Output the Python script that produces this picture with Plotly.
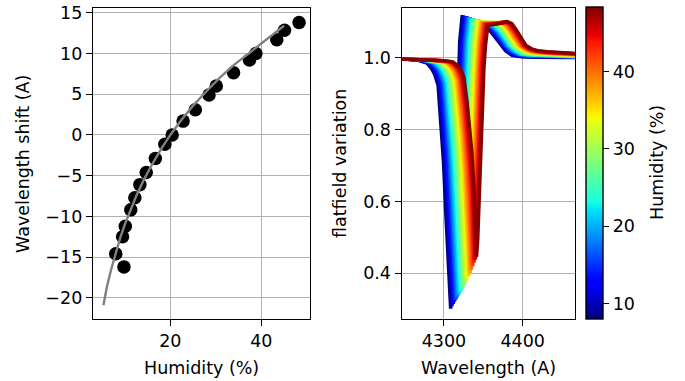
import plotly.graph_objects as go

# ---------------- data ----------------
# left panel: measured points, humidity (%) vs wavelength shift (A)
HUMIDITY = [8.0, 9.5, 9.8, 10.1, 11.3, 12.2, 13.3, 14.7, 16.7, 18.8, 20.4,
            22.8, 25.5, 28.5, 30.1, 33.9, 37.4, 38.8, 43.4, 45.1, 48.3]
SHIFT = [-14.6, -12.5, -16.2, -11.2, -9.2, -7.7, -6.1, -4.6, -2.9, -1.15, 0.0,
         1.7, 3.1, 4.9, 6.0, 7.65, 9.2, 10.0, 11.7, 12.85, 13.8]

# left panel: grey fitted curve, read along its path
FIT_H = [5.3, 6.0, 7.0, 8.0, 9.0, 10.0, 11.0, 12.5, 14.0, 16.0, 18.0, 20.0,
         22.5, 25.0, 28.0, 31.0, 34.0, 37.0, 40.0, 42.5, 45.0]
FIT_S = [-20.9, -18.8, -16.5, -14.4, -12.6, -11.0, -9.5, -7.5, -5.7, -3.6, -1.7,
         0.0, 1.9, 3.6, 5.4, 7.1, 8.6, 9.9, 11.2, 12.3, 13.4]

# right panel: spectra (humidity of each spectrum, dip wavelength, dip depth,
# and how "wet" the spectrum shape looks) - read estimates
SPEC_H = [8, 10, 12, 14, 16, 18, 20, 22, 24, 26, 28, 30, 32, 34, 36, 38, 40,
          42, 44, 46, 48]
SPEC_CENTER = [4308.5, 4310.1, 4311.8, 4313.4, 4315.1, 4316.7, 4318.3, 4320.0,
               4321.6, 4323.3, 4324.9, 4326.5, 4328.2, 4329.8, 4331.5, 4333.1,
               4334.7, 4336.4, 4338.0, 4339.7, 4341.3]
SPEC_DEPTH = [0.302, 0.309, 0.315, 0.321, 0.327, 0.333, 0.339, 0.345, 0.351, 0.357,
              0.364, 0.371, 0.378, 0.386, 0.393, 0.401, 0.410, 0.420, 0.430, 0.438,
              0.446]
SPEC_WET = [0.0, 0.05, 0.10, 0.15, 0.20, 0.25, 0.30, 0.35, 0.40, 0.45, 0.50,
            0.55, 0.60, 0.65, 0.70, 0.75, 0.80, 0.85, 0.90, 0.95, 1.0]

# spectral profile, offsets (A) from the dip minimum: dry (blue) and wet (red) shapes
OFF_DIP = [-110, -60, -40, -30, -24, -20, -16, -12, -9, -6, -3, -1, 0,
           1.5, 3.5, 5.5, 7.5, 9.5]
DIP_FRAC_DRY = [0.0, 0.005, 0.012, 0.022, 0.045, 0.07, 0.11, 0.28, 0.42, 0.63, 0.84,
                0.96, 1.0, 0.94, 0.74, 0.50, 0.26, 0.07]
DIP_FRAC_WET = [0.005, 0.010, 0.016, 0.022, 0.04, 0.06, 0.10, 0.22, 0.33, 0.47, 0.66,
                0.86, 1.0, 0.92, 0.70, 0.45, 0.22, 0.05]
OFF_HUMP = [11.5, 14.5, 20, 27, 33, 39, 45, 51, 57, 63, 70, 78, 90, 110, 130, 170]
HUMP_DRY = [1.045, 1.113, 1.110, 1.103, 1.097, 1.090, 1.083, 1.072, 1.055, 1.035,
            1.018, 1.006, 1.002, 1.001, 1.000, 1.000]
HUMP_WET = [1.035, 1.090, 1.091, 1.093, 1.096, 1.100, 1.094, 1.075, 1.052, 1.033,
            1.024, 1.019, 1.016, 1.012, 1.008, 1.005]

CB_TICKS = [10, 20, 30, 40]

# ---------------- styling helpers ----------------
W, H = 685, 381
FONT = "DejaVu Sans"
FS = 17.5


def px_x(p):
    return p / W


def px_y(p):
    return 1 - p / H


def jet(t):
    """matplotlib 'jet' colormap."""
    t = min(max(t, 0.0), 1.0)

    def seg(pts):
        for (x0, y0), (x1, y1) in zip(pts[:-1], pts[1:]):
            if x0 <= t <= x1:
                return y0 if x1 == x0 else y0 + (y1 - y0) * (t - x0) / (x1 - x0)
        return pts[-1][1]
    r = seg([(0, 0), (0.35, 0), (0.66, 1), (0.89, 1), (1, 0.5)])
    g = seg([(0, 0), (0.125, 0), (0.375, 1), (0.64, 1), (0.91, 0), (1, 0)])
    b = seg([(0, 0.5), (0.11, 1), (0.34, 1), (0.65, 0), (1, 0)])
    return "rgb(%d,%d,%d)" % (round(r * 255), round(g * 255), round(b * 255))


JET_STOPS = [0, 0.11, 0.125, 0.34, 0.35, 0.375, 0.64, 0.65, 0.66, 0.89, 0.91, 1]
JET_SCALE = [[s, jet(s)] for s in JET_STOPS]

hmin, hmax = min(HUMIDITY), max(HUMIDITY)

fig = go.Figure()

# ---------------- left panel ----------------
fig.add_trace(go.Scatter(x=HUMIDITY, y=SHIFT, mode="markers",
                         marker=dict(color="black", size=13.5),
                         xaxis="x", yaxis="y", showlegend=False))
fig.add_trace(go.Scatter(x=FIT_H, y=FIT_S, mode="lines",
                         line=dict(color="#808080", width=2.4),
                         xaxis="x", yaxis="y", showlegend=False))

# ---------------- right panel ----------------
for h, c, d, w in zip(SPEC_H, SPEC_CENTER, SPEC_DEPTH, SPEC_WET):
    xs = [c + o for o in OFF_DIP] + [c + o for o in OFF_HUMP]
    ys = [1 - ((1 - w) * a + w * b) * (1 - d) for a, b in zip(DIP_FRAC_DRY, DIP_FRAC_WET)] + \
         [(1 - w) * a + w * b for a, b in zip(HUMP_DRY, HUMP_WET)]
    fig.add_trace(go.Scatter(x=xs, y=ys, mode="lines",
                             line=dict(color=jet((h - hmin) / (hmax - hmin)), width=3.5),
                             xaxis="x2", yaxis="y2", showlegend=False,
                             hoverinfo="skip"))

# colour bar carrier
fig.add_trace(go.Scatter(
    x=[None], y=[None], mode="markers", xaxis="x2", yaxis="y2", showlegend=False,
    marker=dict(color=[hmin, hmax], colorscale=JET_SCALE, cmin=hmin, cmax=hmax,
                showscale=True,
                colorbar=dict(
                    x=px_x(585.7), xanchor="left", xpad=0, ypad=0,
                    y=px_y((7.3 + 319) / 2), yanchor="middle",
                    len=(319 - 7.3) / H, lenmode="fraction",
                    thickness=16.6, thicknessmode="pixels",
                    outlinewidth=1.4, outlinecolor="black",
                    ticks="outside", ticklen=6, tickwidth=1.4, tickcolor="black",
                    tickvals=CB_TICKS, tickfont=dict(family=FONT, size=FS, color="black"),
                ))))

axis_common = dict(showline=True, linecolor="black", linewidth=1.4, mirror=True,
                   ticks="outside", ticklen=6, tickwidth=1.4, tickcolor="black",
                   showgrid=True, gridcolor="#b0b0b0", gridwidth=1.3,
                   zeroline=False, tickfont=dict(family=FONT, size=FS, color="black"))

yd = [px_y(319), px_y(7.5)]
fig.update_layout(
    width=W, height=H, margin=dict(l=0, r=0, t=0, b=0, autoexpand=False),
    paper_bgcolor="white", plot_bgcolor="white",
    font=dict(family=FONT, size=FS, color="black"),
    xaxis=dict(domain=[px_x(93), px_x(310)], range=[3.0, 50.7],
               tickvals=[20, 40], anchor="y", **axis_common),
    yaxis=dict(domain=yd, range=[-22.6, 15.65],
               tickvals=[-20, -15, -10, -5, 0, 5, 10, 15],
               ticktext=["\u221220", "\u221215", "\u221210", "\u22125", "0", "5", "10", "15"],
               anchor="x", **axis_common),
    xaxis2=dict(domain=[px_x(401.7), px_x(575.3)], range=[4246.3, 4466.8],
                tickvals=[4300, 4400], anchor="y2", **axis_common),
    yaxis2=dict(domain=yd, range=[0.273, 1.139],
                tickvals=[0.4, 0.6, 0.8, 1.0], ticktext=["0.4", "0.6", "0.8", "1.0"],
                anchor="x2", **axis_common),
    annotations=[
        dict(text="Humidity (%)", x=px_x(201.5), y=px_y(368), xref="paper", yref="paper",
             showarrow=False, xanchor="center", yanchor="middle"),
        dict(text="Wavelength (A)", x=px_x(488.5), y=px_y(368), xref="paper", yref="paper",
             showarrow=False, xanchor="center", yanchor="middle"),
        dict(text="Wavelength shift (A)", x=px_x(23), y=px_y(164), xref="paper",
             yref="paper", showarrow=False, textangle=-90,
             xanchor="center", yanchor="middle"),
        dict(text="flatfield variation", x=px_x(340), y=px_y(164), xref="paper",
             yref="paper", showarrow=False, textangle=-90,
             xanchor="center", yanchor="middle"),
        dict(text="Humidity (%)", x=px_x(657), y=px_y(163), xref="paper",
             yref="paper", showarrow=False, textangle=-90,
             xanchor="center", yanchor="middle"),
    ],
)

fig.write_html("out.html")
